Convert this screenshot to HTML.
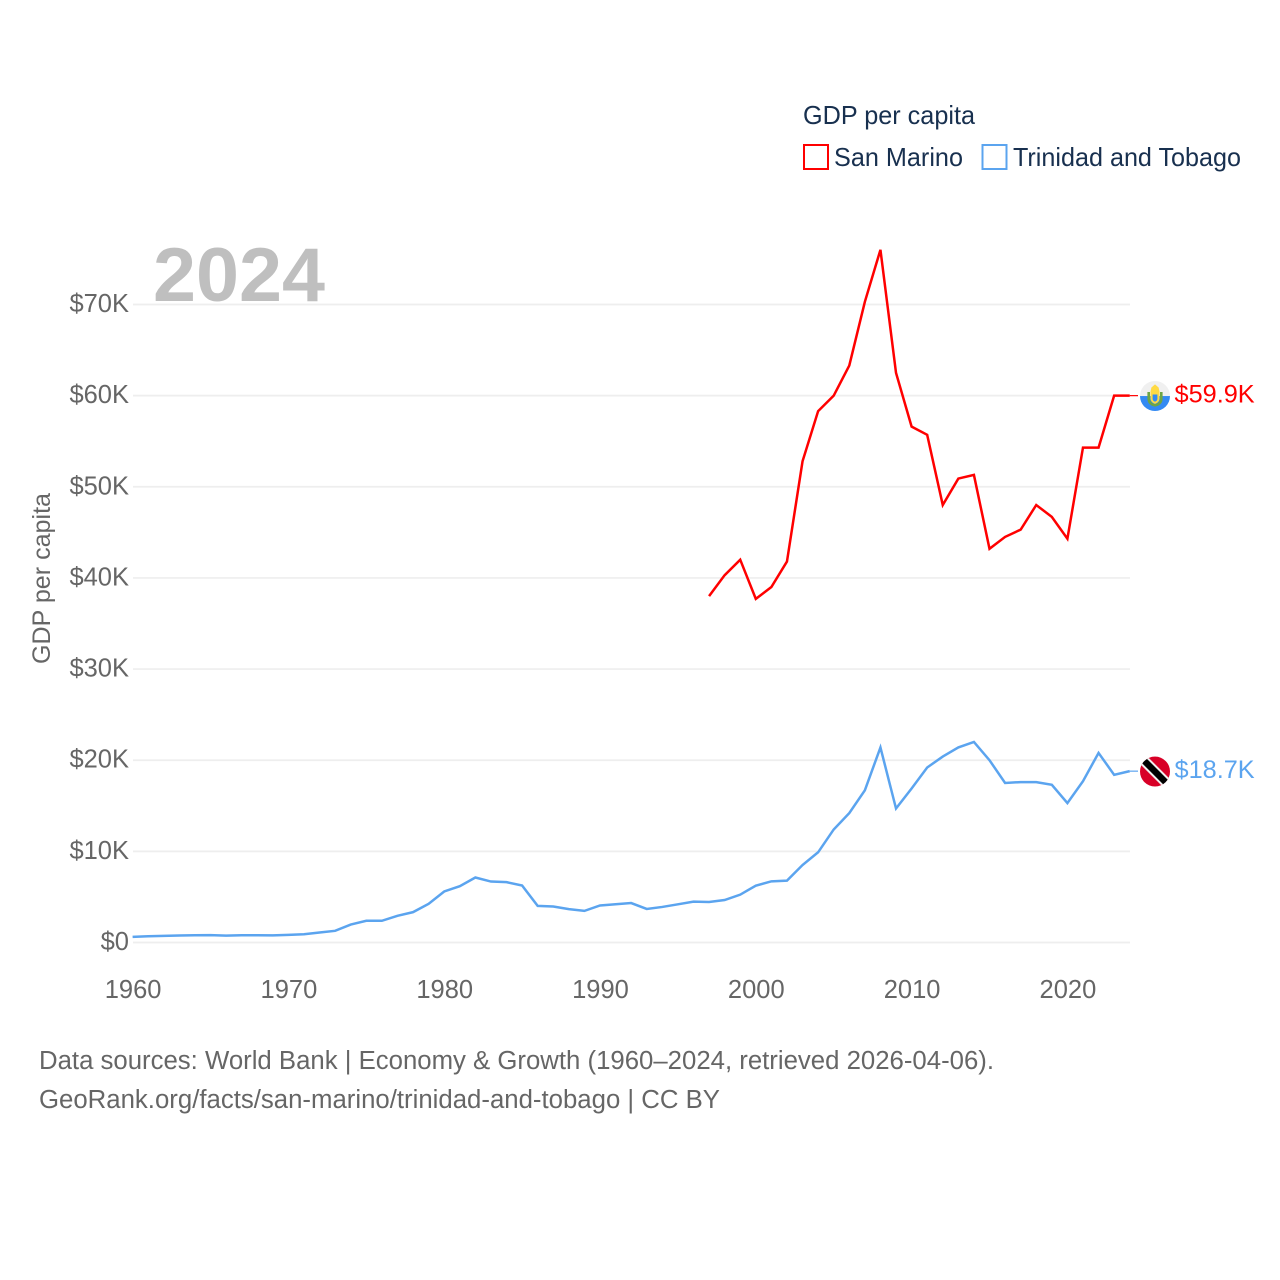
<!DOCTYPE html>
<html lang="en">
<head>
<meta charset="utf-8">
<title>GDP per capita: San Marino and Trinidad and Tobago</title>
<style>
html,body{margin:0;padding:0;background:#fff;}
svg{display:block;font-family:"Liberation Sans",sans-serif;}
</style>
</head>
<body>
<svg id="chart" xmlns="http://www.w3.org/2000/svg" width="1280" height="1280" viewBox="0 0 1280 1280">
  <rect width="1280" height="1280" fill="#fff"/>
  <g id="grid"></g>
  <text x="153" y="301" font-size="76" font-weight="bold" fill="#bfbfbf" textLength="172" lengthAdjust="spacingAndGlyphs">2024</text>
  <g id="yticks"></g>
  <g id="xticks"></g>
  <text transform="translate(50,578.5) rotate(-90)" text-anchor="middle" font-size="25" fill="#666" textLength="171" lengthAdjust="spacingAndGlyphs">GDP per capita</text>
  <g id="series"></g>

  <g>
    <text x="803" y="124" font-size="26" fill="#18304f" textLength="172" lengthAdjust="spacingAndGlyphs">GDP per capita</text>
    <g>
      <rect x="804" y="145" width="24" height="24" fill="none" stroke="#ff0000" stroke-width="2"/>
      <text x="834" y="166" font-size="26" fill="#18304f" textLength="129" lengthAdjust="spacingAndGlyphs">San Marino</text>
    </g>
    <g>
      <rect x="982.5" y="145" width="24" height="24" fill="none" stroke="#5ba4ef" stroke-width="2"/>
      <text x="1013" y="166" font-size="26" fill="#18304f" textLength="228" lengthAdjust="spacingAndGlyphs">Trinidad and Tobago</text>
    </g>
  </g>

  <text x="39" y="1069" font-size="25.5" fill="#666" textLength="955" lengthAdjust="spacingAndGlyphs">Data sources: World Bank | Economy &amp; Growth (1960–2024, retrieved 2026-04-06).</text>
  <text x="39" y="1108" font-size="25.5" fill="#666" textLength="681" lengthAdjust="spacingAndGlyphs">GeoRank.org/facts/san-marino/trinidad-and-tobago | CC BY</text>

  <defs>
    <clipPath id="flag-clip"><circle cx="0" cy="0" r="15"/></clipPath>
  </defs>
  <g id="flag-sm">
    <g clip-path="url(#flag-clip)">
      <rect x="-15" y="-15" width="30" height="15" fill="#f0f0f0"/>
      <rect x="-15" y="0" width="30" height="15" fill="#338af3"/>
      <path d="M-6.3 -4 V3 Q-6 8 0 9.3 Q6 8 6.3 3 V-4" fill="none" stroke="#6da544" stroke-width="2.6"/>
      <path d="M-4.5 -4.5 H4.5 V3 Q4 6.5 0 7.8 Q-4 6.5 -4.5 3 Z" fill="#ffda44"/>
      <path d="M-2.4 -1.5 H2.4 V3 Q2.2 5 0 5.6 Q-2.2 5 -2.4 3 Z" fill="#338af3"/>
      <path d="M-4.5 -4.5 L-3.6 -8.5 L0 -11.7 L3.6 -8.5 L4.5 -4.5 Z" fill="#ffda44"/>
    </g>
  </g>
  <g id="flag-tt">
    <g clip-path="url(#flag-clip)">
      <rect x="-15" y="-15" width="30" height="30" fill="#d80027"/>
      <line x1="-15" y1="-15" x2="15" y2="15" stroke="#f0f0f0" stroke-width="10.5"/>
      <line x1="-15" y1="-15" x2="15" y2="15" stroke="#000" stroke-width="6.5"/>
    </g>
  </g>
  <g id="endlabels"></g>
</svg>
<script>
var years = [1960,1961,1962,1963,1964,1965,1966,1967,1968,1969,1970,1971,1972,1973,1974,1975,1976,1977,1978,1979,1980,1981,1982,1983,1984,1985,1986,1987,1988,1989,1990,1991,1992,1993,1994,1995,1996,1997,1998,1999,2000,2001,2002,2003,2004,2005,2006,2007,2008,2009,2010,2011,2012,2013,2014,2015,2016,2017,2018,2019,2020,2021,2022,2023,2024];
var sanMarinoYears = [1997,1998,1999,2000,2001,2002,2003,2004,2005,2006,2007,2008,2009,2010,2011,2012,2013,2014,2015,2016,2017,2018,2019,2020,2021,2022,2023,2024];
var sanMarinoValues = [38.0,40.3,42.0,37.7,39.0,41.8,52.8,58.3,60.0,63.3,70.3,76.0,62.5,56.6,55.7,48.0,50.9,51.3,43.2,44.5,45.3,48.0,46.7,44.3,54.3,54.3,60.0,60.0];
var trinidadValues = [0.62,0.69,0.73,0.77,0.80,0.81,0.76,0.79,0.79,0.78,0.84,0.91,1.1,1.28,1.97,2.38,2.38,2.93,3.33,4.24,5.6,6.18,7.13,6.69,6.62,6.25,4.02,3.95,3.66,3.47,4.06,4.2,4.33,3.68,3.9,4.19,4.48,4.44,4.66,5.25,6.24,6.71,6.79,8.5,9.9,12.4,14.2,16.7,21.4,14.7,16.9,19.2,20.4,21.4,22.0,20.0,17.5,17.6,17.6,17.3,15.3,17.7,20.8,18.4,18.8];
var yTickValues = [0,10,20,30,40,50,60,70];
var yTickLabels = ["$0","$10K","$20K","$30K","$40K","$50K","$60K","$70K"];
var xTickValues = [1960,1970,1980,1990,2000,2010,2020];
var sanMarinoLabel = "$59.9K";
var trinidadLabel = "$18.7K";

var NS = "http://www.w3.org/2000/svg";
function xScale(year){ return 132.6 + (year - 1960) * 15.58; }
function yScale(v){ return 942.5 - v * (942.5 - 304.5) / 70; }
function make(parent, tag, attrs, text){
  var el = document.createElementNS(NS, tag);
  for (var k in attrs) el.setAttribute(k, attrs[k]);
  if (text !== undefined) el.textContent = text;
  parent.appendChild(el);
  return el;
}
function linePath(xs, ys){
  return xs.map(function(x, i){
    return (i ? "L" : "M") + xScale(x).toFixed(2) + " " + yScale(ys[i]).toFixed(2);
  }).join(" ");
}

var gGrid = document.getElementById("grid");
var gY = document.getElementById("yticks");
var gX = document.getElementById("xticks");
var gS = document.getElementById("series");
var gE = document.getElementById("endlabels");

yTickValues.forEach(function(v, i){
  var line = make(gGrid, "line", {x1: 133, x2: 1130, y1: yScale(v), y2: yScale(v), stroke: "#eeeeee", "stroke-width": 1.7});
  
  
  var t = make(gY, "text", {x: 129, y: yScale(v) + 7.5, "text-anchor": "end", "font-size": 25.5, fill: "#666"}, yTickLabels[i]);
  
  
});

xTickValues.forEach(function(year){
  var t = make(gX, "text", {x: xScale(year) + 0.5, y: 998, "text-anchor": "middle", "font-size": 25.5, fill: "#666"}, String(year));
  
  
});

var blue = make(gS, "path", {d: linePath(years, trinidadValues), fill: "none", stroke: "#5ba4ef", "stroke-width": 2.5, "stroke-linejoin": "miter"});


var red = make(gS, "path", {d: linePath(sanMarinoYears, sanMarinoValues), fill: "none", stroke: "#ff0000", "stroke-width": 2.5, "stroke-linejoin": "miter"});



function endMark(lastValue, color, label, flagId, connectorName, labelName){
  var y = yScale(lastValue);
  var c = make(gS, "line", {x1: xScale(2024), x2: 1138, y1: y, y2: y, stroke: color, "stroke-width": 1.2});
  
  
  document.getElementById(flagId).setAttribute("transform", "translate(1155," + (y + 0.4) + ")");
  var t = make(gE, "text", {x: 1174.5, y: y + 6.8, "font-size": 25.3, fill: color}, label);
  
  
}
endMark(sanMarinoValues[sanMarinoValues.length - 1], "#ff0000", sanMarinoLabel, "flag-sm", "san-marino-connector", "san-marino-end-label");
endMark(trinidadValues[trinidadValues.length - 1], "#5ba4ef", trinidadLabel, "flag-tt", "trinidad-connector", "trinidad-end-label");
</script>
</body>
</html>
